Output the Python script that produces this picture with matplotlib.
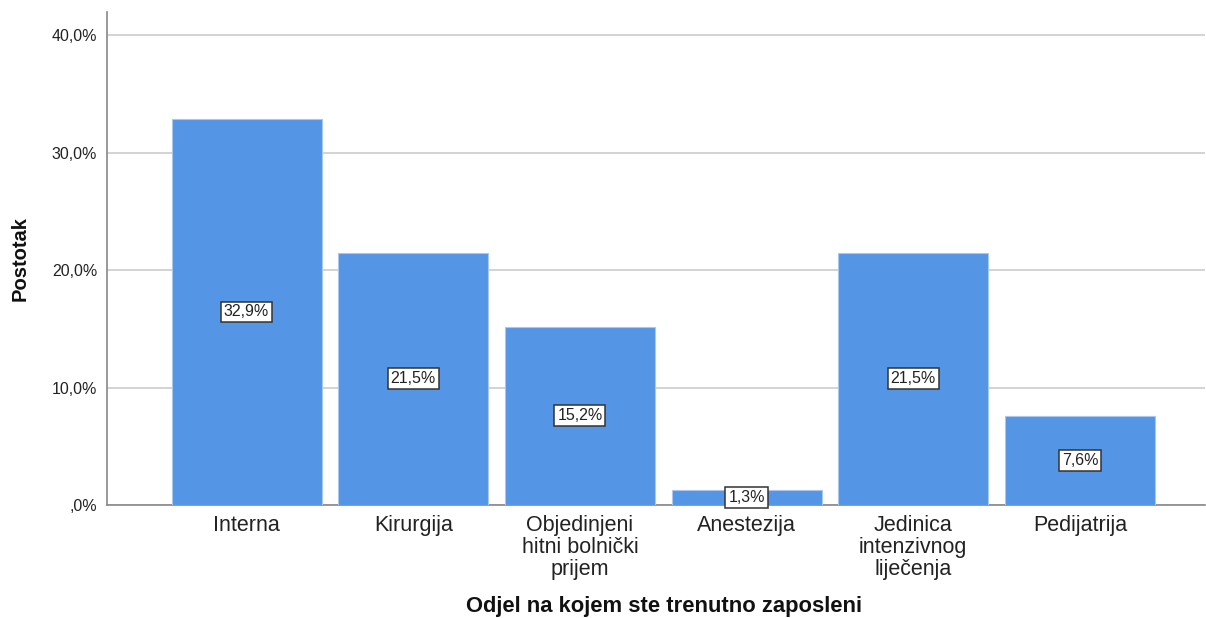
import matplotlib
matplotlib.use("Agg")
import matplotlib.pyplot as plt

plt.rcParams['font.family'] = ['Liberation Sans', 'DejaVu Sans']

categories = ["Interna", "Kirurgija", "Objedinjeni\nhitni bolnički\nprijem", "Anestezija",
              "Jedinica\nintenzivnog\nliječenja", "Pedijatrija"]
values = [32.9, 21.5, 15.2, 1.3, 21.5, 7.6]
yticks = [0, 10, 20, 30, 40]
ytick_labels = [",0%", "10,0%", "20,0%", "30,0%", "40,0%"]

fig = plt.figure(figsize=(12.06, 6.18), dpi=100)
ax = fig.add_axes([107 / 1206, 1 - 505 / 618, 1098 / 1206, 493 / 618])

bar_color = "#5595e5"
x = list(range(len(categories)))
ax.bar(x, values, width=0.9, color=bar_color, edgecolor="#a9c8f0", linewidth=0.8, zorder=3)

for xi, v in zip(x, values):
    ax.text(xi, v / 2, f"{v:.1f}%".replace(".", ","), ha="center", va="center",
            fontsize=11.5, color="#222222", zorder=5,
            bbox=dict(boxstyle="square,pad=0.18", facecolor="white", edgecolor="#333333", linewidth=1.1))

ax.set_xlim(-0.837, 5.75)
ax.set_ylim(0, 42.0)
ax.set_yticks(yticks)
ax.set_yticklabels(ytick_labels, fontsize=11.5, color="#222222")
ax.set_xticks(x)
ax.set_xticklabels(categories, fontsize=15.5, color="#222222", linespacing=1.08, va="top")
ax.tick_params(axis="both", length=0)
ax.tick_params(axis="y", pad=7)
ax.tick_params(axis="x", pad=7)

ax.yaxis.grid(True, color="#cccccc", linewidth=1.2, zorder=0)
ax.set_axisbelow(True)

for side in ("top", "right"):
    ax.spines[side].set_visible(False)
for side in ("left", "bottom"):
    ax.spines[side].set_color("#888888")
    ax.spines[side].set_linewidth(1.2)

ax.set_ylabel("Postotak", fontsize=14.5, fontweight="bold", color="#111111", labelpad=16)
ax.set_xlabel("Odjel na kojem ste trenutno zaposleni", fontsize=15.8, fontweight="bold",
              color="#111111", va="center")
ax.xaxis.set_label_coords(0.507, -0.205)

fig.savefig("out.png", dpi=100, facecolor="white")
